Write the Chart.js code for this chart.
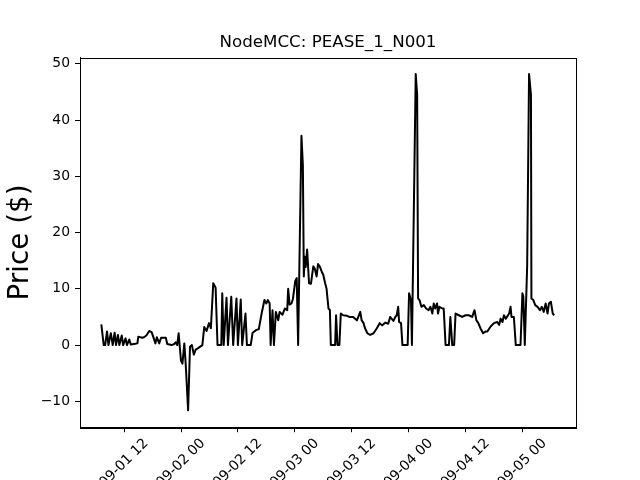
<!DOCTYPE html>
<html>
<head>
<meta charset="utf-8">
<script src="https://cdn.jsdelivr.net/npm/chart.js@4/dist/chart.umd.min.js"></script>
<style>
  html, body { margin: 0; padding: 0; background: #fff; }
  #wrap { width: 640px; height: 480px; }
</style>
</head>
<body>
<div id="wrap"><canvas id="priceChart" width="640" height="480"></canvas></div>
<script>
// hours since 2019-09-01 00:00
const hours = [
  7.2, 7.7, 8.0, 8.4, 8.7, 9.2, 9.6, 10.0, 10.3, 10.7,
  11.0, 11.5, 11.8, 12.3, 12.6, 13.1, 13.4, 14.1, 14.8, 15.0,
  15.8, 16.2, 16.7, 17.3, 17.8, 18.1, 18.6, 18.9, 19.4, 19.8,
  20.8, 21.1, 22.0, 22.6, 22.9, 23.2, 23.5, 24.0, 24.3, 24.7,
  25.0, 25.5, 25.9, 26.3, 26.7, 27.1, 27.7, 28.5, 28.9, 29.4,
  29.9, 30.3, 30.8, 31.3, 31.7, 32.5, 32.7, 33.0, 33.6, 33.9,
  34.6, 35.0, 35.7, 36.0, 36.6, 36.9, 37.6, 37.9, 38.7, 39.1,
  39.9, 40.4, 41.0, 41.6, 42.0, 42.3, 42.7, 42.9, 43.3, 43.6,
  44.0, 44.5, 44.8, 45.4, 45.9, 46.4, 46.6, 46.9, 47.3, 47.6,
  48.1, 48.4, 48.7, 49.4, 49.7, 49.9, 50.1, 50.3, 50.6, 51.0,
  51.4, 51.9, 52.2, 52.6, 52.9, 53.3, 53.7, 54.0, 54.4, 54.7,
  55.1, 55.4, 55.6, 56.5, 56.7, 57.0, 57.4, 57.7, 58.2, 59.0,
  59.6, 60.3, 61.1, 61.8, 62.1, 62.5, 62.8, 63.3, 63.9, 64.6,
  65.3, 65.9, 66.4, 67.1, 67.7, 68.1, 68.8, 69.2, 69.5, 69.8,
  70.0, 70.4, 70.7, 71.8, 72.1, 72.5, 72.7, 73.5, 73.8, 74.0,
  74.3, 74.7, 75.2, 75.7, 76.2, 76.6, 77.0, 77.3, 77.6, 78.0,
  78.2, 78.5, 79.1, 79.4, 79.8, 80.5, 80.8, 81.2, 81.6, 81.9,
  82.6, 83.3, 84.0, 84.7, 85.4, 85.9, 86.3, 86.7, 87.2, 87.7,
  88.2, 88.6, 89.3, 90.0, 90.7, 91.1, 91.4, 91.8, 92.1, 92.5,
  93.2, 93.5, 93.7, 94.2, 94.6, 95.6, 96.0, 96.2, 96.5, 96.7,
  97.0, 97.4, 97.8, 97.9, 98.3, 98.7, 99.2, 99.7, 100.1, 100.5,
  100.9, 101.3, 101.6, 102.0, 102.4, 102.7
];
const prices = [
  3.7, 0, 0, 2.4, 0, 2.1, 0, 2.2, 0, 1.8,
  0, 1.7, 0, 1.2, 0, 1.0, 0.1, 0.2, 0.3, 1.5,
  1.3, 1.4, 1.7, 2.5, 2.3, 1.6, 0.3, 1.4, 0.3, 1.3,
  1.3, 0.2, 0, 0.2, 0.5, 0, 2.1, -2.8, -3.3, 0.3,
  -3.5, -11.6, -0.3, 0, -1.7, -0.8, -0.5, 0, 3.2, 2.5,
  3.9, 3.0, 11.0, 10.2, 0, 0, 9.2, 0, 8.4, 0,
  8.6, 0, 8.3, 0, 8.1, 0, 5.6, 0, 0, 2.2,
  2.7, 2.8, 5.6, 8.0, 7.4, 8.0, 7.4, 0, 6.2, 0,
  5.9, 4.4, 5.9, 5.4, 6.5, 6.2, 10.0, 7.2, 7.4, 8.2,
  11.4, 11.9, 0, 37.2, 32.0, 12.2, 15.7, 13.9, 17.0, 11.0,
  10.9, 14.0, 13.6, 12.2, 14.4, 13.9, 13.0, 12.5, 11.0, 10.0,
  6.5, 6.2, 0, 0, 5.3, 0, 0, 5.6, 5.3, 5.2,
  5.0, 5.0, 4.4, 5.9, 4.4, 3.9, 3.0, 2.1, 1.8, 2.1,
  3.0, 3.9, 3.5, 4.0, 3.8, 5.0, 4.3, 5.0, 5.3, 6.8,
  4.1, 3.9, 0, 0, 9.2, 8.0, 0, 48.2, 44.5, 8.3,
  8.0, 6.8, 7.1, 6.5, 6.2, 6.8, 5.6, 7.4, 6.5, 7.4,
  5.6, 6.8, 6.5, 6.5, 0, 0, 5.0, 0, 0, 5.6,
  5.3, 5.0, 5.3, 5.3, 5.0, 6.2, 4.4, 3.9, 2.9, 2.1,
  2.4, 2.4, 3.3, 3.9, 4.1, 3.6, 4.7, 4.1, 5.3, 4.7,
  5.6, 6.8, 5.0, 5.0, 0, 0, 9.2, 8.6, 0, 5.6,
  14.0, 48.2, 44.5, 8.3, 8.0, 7.1, 6.8, 6.2, 6.8, 5.9,
  7.4, 5.6, 7.4, 7.7, 5.6, 5.3
];
const yTicks = [-10, 0, 10, 20, 30, 40, 50];
const xTickHours = [12, 24, 36, 48, 60, 72, 84, 96];
const xTickLabels = ['09-01 12', '09-02 00', '09-02 12', '09-03 00', '09-03 12', '09-04 00', '09-04 12', '09-05 00'];

const FONT = 'DejaVu Sans';

// matplotlib-style box around the axes
const frameBox = {
  id: 'frameBox',
  afterDraw(chart) {
    const a = chart.chartArea;
    const ctx = chart.ctx;
    ctx.save();
    ctx.strokeStyle = '#000';
    ctx.lineWidth = 1;
    ctx.strokeRect(Math.round(a.left) + 0.5, Math.round(a.top) + 0.5,
      Math.round(a.right - a.left), Math.round(a.bottom - a.top));
    ctx.restore();
  }
};

const points = hours.map((h, i) => ({ x: h, y: prices[i] }));

new Chart(document.getElementById('priceChart'), {
  type: 'line',
  data: {
    datasets: [{
      data: points,
      borderColor: '#000',
      borderWidth: 2,
      borderJoinStyle: 'round',
      pointRadius: 0,
      tension: 0,
      fill: false
    }]
  },
  options: {
    responsive: false,
    animation: false,
    devicePixelRatio: 1,
    layout: { padding: { left: 0, right: 64, top: 0, bottom: 0 } },
    plugins: {
      legend: { display: false },
      tooltip: { enabled: false },
      title: {
        display: true,
        fullSize: false,
        text: 'NodeMCC: PEASE_1_N001',
        color: '#000',
        font: { family: FONT, size: 16.7, weight: 'normal', lineHeight: 1.2 },
        padding: { top: 33, bottom: 4.6 }
      }
    },
    scales: {
      x: {
        type: 'linear',
        min: 2.7,
        max: 107.3,
        afterBuildTicks: s => { s.ticks = xTickHours.map(v => ({ value: v })); },
        afterFit: s => { s.height = 52.8; },
        grid: { display: true, drawOnChartArea: false, drawTicks: true, tickLength: 5, color: '#000', tickColor: '#000' },
        border: { display: true, color: '#000', width: 1 },
        ticks: {
          color: '#000',
          font: { family: FONT, size: 13.9 },
          autoSkip: false,
          minRotation: 45,
          maxRotation: 45,
          labelOffset: 22,
          padding: 3,
          callback: (v, i) => xTickLabels[i]
        }
      },
      y: {
        min: -14.6,
        max: 51.1,
        afterBuildTicks: s => { s.ticks = yTicks.map(v => ({ value: v })); },
        afterFit: s => { s.width = 80; },
        grid: { display: true, drawOnChartArea: false, drawTicks: true, tickLength: 5, color: '#000', tickColor: '#000' },
        border: { display: true, color: '#000', width: 1 },
        ticks: {
          color: '#000',
          font: { family: FONT, size: 13.9 },
          padding: 5,
          callback: v => String(v).replace('-', '\u2212')
        },
        title: {
          display: true,
          text: 'Price ($)',
          color: '#000',
          font: { family: FONT, size: 27.8, lineHeight: 1.2 },
          padding: { top: 4, bottom: 0 }
        }
      }
    }
  },
  plugins: [frameBox]
});
</script>
</body>
</html>
